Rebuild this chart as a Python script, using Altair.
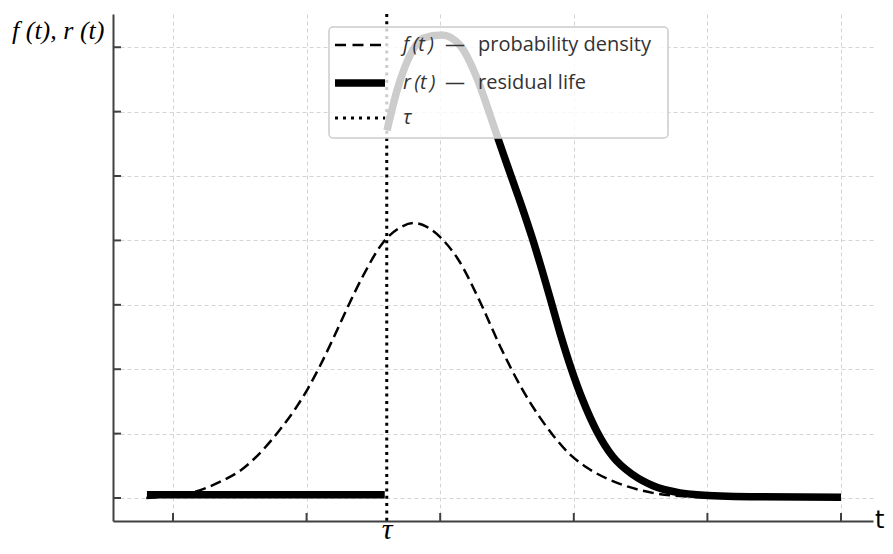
import altair as alt
import pandas as pd

# ---- data ----
x_ticks = [1, 2, 3, 4, 5, 6]
y_ticks = [0, 1, 2, 3, 4, 5, 6, 7]
tau = 2.6

# f(t) probability density (dashed)
f_t = [0.80, 1.15, 1.35, 1.52, 1.67, 1.80, 1.93, 2.01, 2.10, 2.20, 2.30, 2.42, 2.57, 2.70,
       2.80, 2.90, 3.00, 3.13, 3.30, 3.45, 3.60, 3.75, 3.85, 3.97, 4.10, 4.25, 4.40, 4.59,
       4.80, 5.00, 5.50, 6.00]
f_y = [0.0, 0.09, 0.25, 0.45, 0.74, 1.06, 1.43, 1.70, 2.05, 2.48, 2.93, 3.44, 3.96, 4.20,
       4.27, 4.21, 4.05, 3.72, 3.04, 2.35, 1.74, 1.24, 0.96, 0.68, 0.47, 0.30, 0.18, 0.08,
       0.03, 0.01, 0.0, 0.0]

# r(t) residual life: flat part before tau, then curve after tau
r_flat_t = [0.805, 2.585]
r_flat_y = [0.05, 0.05]
r_curve_t = [2.602, 2.677, 2.796, 2.871, 3.013, 3.148, 3.275, 3.373, 3.433, 3.522, 3.612,
             3.687, 3.762, 3.822, 3.897, 3.979, 4.069, 4.174, 4.293, 4.443, 4.593, 4.795,
             4.922, 5.32, 6.00]
r_curve_y = [5.71, 6.33, 6.96, 7.14, 7.19, 7.03, 6.52, 5.95, 5.58, 5.05, 4.52,
             4.05, 3.54, 3.11, 2.56, 2.02, 1.51, 1.03, 0.64, 0.36, 0.19, 0.08,
             0.05, 0.02, 0.01]

x_domain = [0.551, 6.2395]
y_domain = [-0.357, 7.516]

W, H = 760, 507

f_df = pd.DataFrame({"t": f_t, "v": f_y})
r_df = pd.concat([
    pd.DataFrame({"t": r_flat_t, "v": r_flat_y, "seg": "a"}),
    pd.DataFrame({"t": r_curve_t, "v": r_curve_y, "seg": "b"}),
])
xt_df = pd.DataFrame({"t": x_ticks})
yt_df = pd.DataFrame({"v": y_ticks})
one = pd.DataFrame({"k": [0]})

xs = alt.Scale(domain=x_domain, nice=False, zero=False)
ys = alt.Scale(domain=y_domain, nice=False, zero=False)

ax_common = dict(labels=False, ticks=False, grid=True, gridDash=[4, 3],
                 gridColor="#d4d4d4", gridWidth=1, domainColor="#404040",
                 domainWidth=2, title=None)
x_axis = alt.Axis(values=x_ticks, **ax_common)
y_axis = alt.Axis(values=y_ticks, **ax_common)

base_grid = alt.Chart(f_df).mark_line(opacity=0).encode(
    x=alt.X("t:Q", scale=xs, axis=x_axis),
    y=alt.Y("v:Q", scale=ys, axis=y_axis),
)

f_line = alt.Chart(f_df).mark_line(
    color="black", strokeWidth=2.5, strokeDash=[11, 5.5], interpolate="monotone"
).encode(x=alt.X("t:Q", scale=xs), y=alt.Y("v:Q", scale=ys))

r_line = alt.Chart(r_df).mark_line(
    color="black", strokeWidth=7.5, interpolate="monotone", strokeCap="butt"
).encode(x=alt.X("t:Q", scale=xs), y=alt.Y("v:Q", scale=ys), detail="seg:N")

tau_rule = alt.Chart(pd.DataFrame({"t": [tau]})).mark_rule(
    color="black", strokeWidth=3, strokeDash=[3, 4.3]
).encode(x=alt.X("t:Q", scale=xs))

x_tick_marks = alt.Chart(xt_df).mark_rule(color="#404040", strokeWidth=2).encode(
    x=alt.X("t:Q", scale=xs), y=alt.value(H - 8), y2=alt.value(H)
)
y_tick_marks = alt.Chart(yt_df).mark_rule(color="#404040", strokeWidth=2).encode(
    y=alt.Y("v:Q", scale=ys), x=alt.value(0), x2=alt.value(8)
)

# legend box
leg_box = alt.Chart(one).mark_rect(
    fill="white", fillOpacity=0.8, stroke="#cccccc", strokeWidth=1.5, cornerRadius=4
).encode(x=alt.value(216), x2=alt.value(555), y=alt.value(13), y2=alt.value(124))

leg_dash = alt.Chart(one).mark_rule(color="black", strokeWidth=2.5, strokeDash=[11, 6.5]).encode(
    x=alt.value(222), x2=alt.value(272), y=alt.value(31))
leg_solid = alt.Chart(one).mark_rule(color="black", strokeWidth=7.5).encode(
    x=alt.value(222), x2=alt.value(272), y=alt.value(69))
leg_dot = alt.Chart(one).mark_rule(color="black", strokeWidth=3, strokeDash=[3, 5]).encode(
    x=alt.value(222), x2=alt.value(272), y=alt.value(104))

def txt(s, x, y, italic=False, size=20, font="Open Sans", color="#333333", align="left", baseline="middle"):
    return alt.Chart(one).mark_text(
        text=s, font=font, fontSize=size, fontStyle="italic" if italic else "normal",
        color=color, align=align, baseline=baseline
    ).encode(x=alt.value(x), y=alt.value(y))

leg_texts = [
    txt("f\u2009(t\u2009)", 290, 31, italic=True),
    txt("—", 332, 31),
    txt("probability density", 365, 31),
    txt("r\u2009(t\u2009)", 290, 69, italic=True),
    txt("—", 332, 69),
    txt("residual life", 365, 69),
    txt("τ", 290, 104, italic=True),
]

y_title = txt("f (t), r (t)", -101, 17, italic=True, size=26, font="Liberation Serif", color="black")
x_title = txt("t", 762, 507, size=24, font="DejaVu Sans", color="black")
tau_label = txt("τ", 274, 525, italic=True, size=30, font="Liberation Serif", color="black",
                align="center", baseline="alphabetic")

chart = alt.layer(
    base_grid, f_line, r_line, tau_rule, x_tick_marks, y_tick_marks,
    leg_box, leg_dash, leg_solid, leg_dot, *leg_texts, y_title, x_title, tau_label
).properties(
    width=W, height=H, autosize="none",
    padding={"left": 105, "top": 6, "right": 12, "bottom": 25},
).configure_view(stroke=None)

chart.save("out.html", embed_options={"renderer": "svg", "actions": False})
